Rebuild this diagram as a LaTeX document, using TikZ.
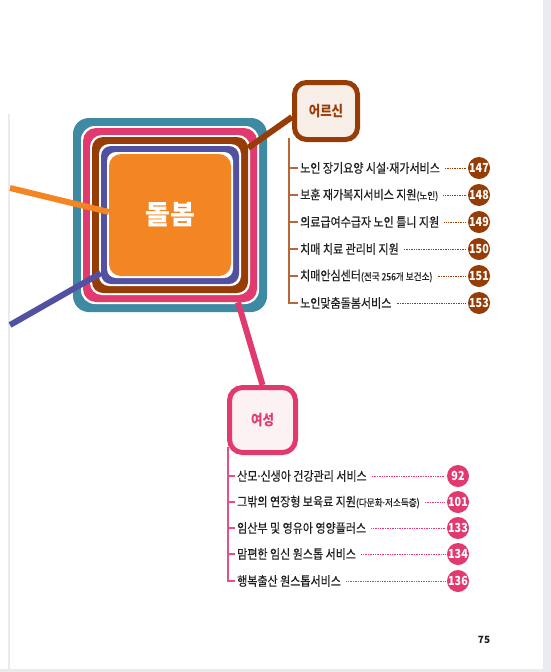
\documentclass[tikz,border=0pt]{standalone}
\usepackage{fontspec}
\setmainfont{Noto Sans CJK KR}
\newfontfamily\krnarrow[FakeStretch=0.86]{Noto Sans CJK KR}
\newfontfamily\krtext[FakeStretch=0.86,FakeBold=0.4]{Noto Sans CJK KR}
\tikzset{>=stealth}
\usetikzlibrary{positioning}
\definecolor{pageback}{HTML}{EAEBEF}
\definecolor{ringteal}{HTML}{3F8AA3}
\definecolor{ringpink}{HTML}{E13A6E}
\definecolor{ringbrown}{HTML}{963C07}
\definecolor{ringpurple}{HTML}{5251A1}
\definecolor{careorange}{HTML}{F38522}
\definecolor{eldercream}{HTML}{F8EEE8}
\definecolor{womencream}{HTML}{FDF2F3}
\definecolor{bodytext}{HTML}{231F20}
\definecolor{brownleg}{HTML}{B8663A}
\definecolor{pinkleg}{HTML}{E8507E}
\newcommand\smallpar[1]{{\fontsize{10}{11}\selectfont #1}}
\newcommand\middot{\kern-0.12em·\kern-0.12em}
\tikzset{
  linkline/.style={line width=6pt},
  groupbox/.style={draw=#1, line width=5pt, rounded corners=12pt, text=#1,
    font=\krnarrow\bfseries\fontsize{14.5}{16}\selectfont},
  itemtext/.style={anchor=west, inner sep=2pt, text=bodytext,
    font=\krtext\fontsize{12.8}{14}\selectfont},
  pagedot/.style={circle, fill=#1, minimum size=22pt, inner sep=0pt, text=white,
    font=\krnarrow\bfseries\fontsize{12.5}{12}\selectfont},
  dotline/.style={draw=#1, line width=0.6pt, dash pattern=on 0.8pt off 0.9pt,
    shorten <=3pt, shorten >=2pt},
  legline/.style={draw=#1, line width=1.1pt},
}

\begin{document}
\begin{tikzpicture}[x=1pt,y=-1pt]
\useasboundingbox (0,0) rectangle (551,672);
% page
\fill[pageback] (0,0) rectangle (551,672);
\fill[white] (0,0) rectangle (543,669);
\fill[pageback] (8,114) rectangle (10,669);

% rings round the centre
\foreach \nm/\sz/\col/\rc in {teal/194/ringteal/16, gapA/178/white/14,
    pink/174/ringpink/13, gapB/160/white/12, brown/156/ringbrown/11,
    gapC/142/white/10, purple/138/ringpurple/10, gapD/126/white/9}
  \node[fill=\col, minimum size=\sz pt, rounded corners=\rc pt] (\nm) at (170,215) {};
\node[fill=careorange, minimum size=122pt, rounded corners=12pt, text=white,
  font=\bfseries\fontsize{27}{27}\selectfont] (care) at (170,215) {돌봄};

% group boxes
\node[groupbox=ringbrown, fill=eldercream, minimum width=63pt, minimum height=57pt]
  (elder) at (326,111) {어르신};
\node[groupbox=ringpink, fill=womencream, minimum width=66pt, minimum height=65pt,
  rounded corners=13pt] (women) at (262.5,420) {여성};

% connectors
\coordinate (leftA) at (10,188);
\coordinate (leftB) at (10,325);
\draw[linkline, careorange] (leftA) -- ([yshift=3pt]care.west);
\draw[linkline, ringpurple] (leftB) -- ([yshift=11pt]purple.south west);
\draw[linkline, ringbrown] ([yshift=-11pt]brown.north east) -- ([yshift=-6pt]elder.west);
\draw[linkline, ringpink] ([xshift=68pt]pink.south) -- (women.north);

% elder list
\coordinate (etop) at (289,138);
\foreach \i/\yy/\txt/\pg in {
  1/168/{노인 장기요양 시설\middot 재가서비스}/147,
  2/195/{보훈 재가복지서비스 지원\smallpar{(노인)}}/148,
  3/222/{의료급여수급자 노인 틀니 지원}/149,
  4/249/{치매 치료 관리비 지원}/150,
  5/276/{치매안심센터\smallpar{(전국 256개 보건소)}}/151,
  6/303/{노인맞춤돌봄서비스}/153}
{
  \node[itemtext] (e\i) at (298,\yy) {\txt};
  \node[pagedot=ringbrown] (ep\i) at (479,\yy) {\pg};
  \draw[dotline=ringbrown] (e\i.east) -- (e\i.east -| ep\i.west);
  \draw[legline=brownleg] (etop |- e\i.west) -- (e\i.west);
}
\draw[legline=brownleg] (etop) |- (e6.west);

% women list
\coordinate (wtop) at (228,447);
\foreach \i/\yy/\txt/\pg in {
  1/476/{산모\middot 신생아 건강관리 서비스}/92,
  2/502/{그밖의 연장형 보육료 지원\smallpar{(다문화\middot 저소득층)}}/101,
  3/528/{임산부 및 영유아 영양플러스}/133,
  4/554/{맘편한 임신 원스톱 서비스}/134,
  5/581/{행복출산 원스톱서비스}/136}
{
  \node[itemtext] (w\i) at (235,\yy) {\txt};
  \node[pagedot=ringpink] (wp\i) at (458,\yy) {\pg};
  \draw[dotline=ringpink] (w\i.east) -- (w\i.east -| wp\i.west);
  \draw[legline=pinkleg] (wtop |- w\i.west) -- (w\i.west);
}
\draw[legline=pinkleg] (wtop) |- (w5.west);

\node[text=bodytext, font=\bfseries\fontsize{10}{10}\selectfont] (pagenum) at (484,640) {75};
\end{tikzpicture}
\end{document}
